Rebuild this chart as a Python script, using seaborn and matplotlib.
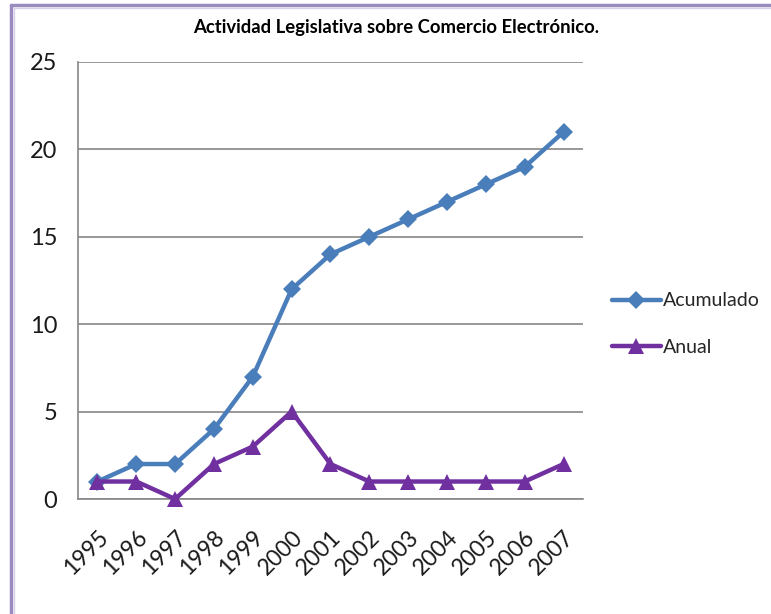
import matplotlib
matplotlib.use("Agg")
import matplotlib.pyplot as plt
from matplotlib.lines import Line2D
from matplotlib.ticker import FixedLocator, MultipleLocator
import seaborn as sns
import pandas as pd

years = [1995, 1996, 1997, 1998, 1999, 2000, 2001, 2002, 2003, 2004, 2005, 2006, 2007]
acumulado = [1, 2, 2, 4, 7, 12, 14, 15, 16, 17, 18, 19, 21]
anual = [1, 1, 0, 2, 3, 5, 2, 1, 1, 1, 1, 1, 2]
series_names = ["Acumulado", "Anual"]
title = "Actividad Legislativa sobre Comercio Electrónico."

df = pd.DataFrame({
    "year": years * 2,
    "value": acumulado + anual,
    "serie": [series_names[0]] * len(years) + [series_names[1]] * len(years),
})

sns.set_style("white")
plt.rcParams["font.family"] = ["Lato", "DejaVu Sans"]

W, H = 771, 614
fig = plt.figure(figsize=(W / 100, H / 100), dpi=100)
ax = fig.add_axes([78 / W, 1 - 499 / H, (583 - 78) / W, (499 - 62) / H])

palette = {"Acumulado": "#4A7EBB", "Anual": "#7030A0"}
markers = {"Acumulado": "D", "Anual": "^"}
sizes = {"Acumulado": 9, "Anual": 12}

for name in series_names:
    sub = df[df["serie"] == name]
    sns.lineplot(data=sub, x="year", y="value", ax=ax, color=palette[name],
                 marker=markers[name], markersize=sizes[name], markeredgewidth=0,
                 linewidth=3.2, label=name, legend=False, zorder=3, clip_on=False)

ax.set_xlim(years[0] - 0.5, years[-1] + 0.5)
ax.set_ylim(0, 25)
ax.yaxis.set_major_locator(MultipleLocator(5))
ax.set_xticks(years)
ax.set_xticklabels([str(y) for y in years], rotation=45, ha="right",
                   rotation_mode="anchor", fontsize=16.5, color="#1a1a1a")
ax.xaxis.set_minor_locator(FixedLocator([y - 0.5 for y in years] + [years[-1] + 0.5]))
ax.tick_params(axis="x", which="major", length=0, pad=20)
ax.tick_params(axis="x", which="minor", length=6, width=1.2, color="#868686", direction="out")
ax.tick_params(axis="y", length=5, width=1.2, color="#868686", direction="out",
               labelsize=17, labelcolor="#1a1a1a", pad=10)
ax.grid(axis="y", color="#868686", linewidth=1.2)
ax.grid(axis="x", visible=False)
ax.set_axisbelow(True)
for side in ["top", "right"]:
    ax.spines[side].set_visible(False)
for side in ["left", "bottom"]:
    ax.spines[side].set_color("#868686")
    ax.spines[side].set_linewidth(1.2)
ax.set_xlabel("")
ax.set_ylabel("")

fig.text(396 / W, 1 - 27 / H, title, ha="center", va="center",
         fontsize=13.3, fontweight="bold", color="#000000")

handles = [Line2D([], [], color=palette[n], marker=markers[n], markersize=sizes[n],
                  markeredgewidth=0, linewidth=3.2) for n in series_names]
fig.legend(handles, series_names, loc="center left",
           bbox_to_anchor=(612 / W, 1 - 324 / H), frameon=False, fontsize=14,
           handlelength=2.5, handletextpad=0.1, labelspacing=1.5, borderpad=0,
           borderaxespad=0)

# frame of the chart area
fig.add_artist(Line2D([11 / W, 1], [1 - 5 / H, 1 - 5 / H], color="#9A8CBF", linewidth=2.5))
fig.add_artist(Line2D([11 / W, 11 / W], [0, 1 - 5 / H], color="#9A8CBF", linewidth=2.5))
fig.add_artist(Line2D([14 / W, 1], [1 - 8 / H, 1 - 8 / H], color="#D8D2E8", linewidth=1))
fig.add_artist(Line2D([14 / W, 14 / W], [0, 1 - 8 / H], color="#D8D2E8", linewidth=1))

fig.savefig("out.png", dpi=100, facecolor="white")
